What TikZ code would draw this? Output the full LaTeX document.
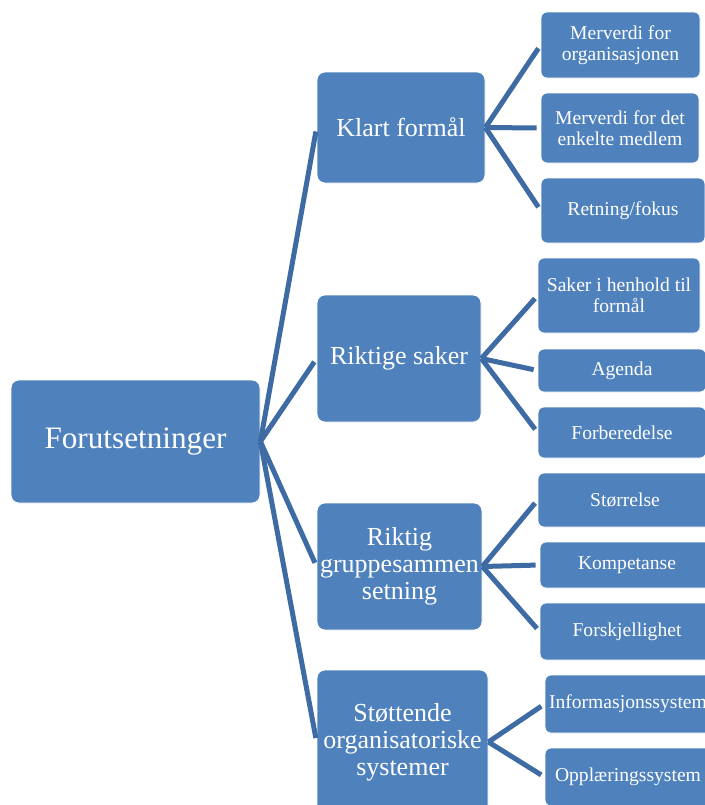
\documentclass[tikz,border=0pt]{standalone}
\usepackage{fontspec}
\setmainfont{Liberation Serif}
\usepackage{xcolor}
\definecolor{boxblue}{HTML}{4F81BD}
\definecolor{linkblue}{HTML}{3E6BA3}

\begin{document}
\begin{tikzpicture}[
      x = 0.5pt, y = -0.5pt, % pixel grid
      line width = 2.5pt, % connector width
      shorten > = 2pt,
    ]

    \tikzstyle{every box}=[
      draw = white,
      line width = 0.4pt,
      fill = boxblue,
      text = white,
      rounded corners = 4pt,
      align = center,
      inner sep = 1pt
    ]
    \tikzstyle{root}=[every box, minimum width = 124.5pt, minimum height = 61.5pt, font = \fontsize{15.6}{17}\selectfont]
    \tikzstyle{mid}=[every box, font = \fontsize{13}{13.5}\selectfont]
    \tikzstyle{leaf}=[every box, rounded corners = 3pt, font = \fontsize{9.8}{10.5}\selectfont]
    \tikzstyle{link}=[draw = linkblue, line width = 2.5pt]

    \useasboundingbox (0, 0) rectangle (705, 805);

    \node[root] (f) [at={(135.5, 441.5)}] {Forutsetninger};

    \node[mid, minimum width = 84pt, minimum height = 55.5pt] (k) [at={(401, 127.5)}] {Klart formål};
    \node[mid, minimum width = 82pt, minimum height = 63.5pt] (s) [at={(399, 358.5)}] {Riktige saker};
    \node[mid, minimum width = 82.5pt, minimum height = 63.5pt] (g) [at={(399.5, 566.5)}] {Riktig\\gruppesammen\\setning};
    \node[mid, minimum width = 85.5pt, minimum height = 72pt] (o) [at={(402.5, 742)}] {Støttende\\organisatoriske\\systemer};

    \node[leaf, minimum width = 79.5pt, minimum height = 33pt] (k1) [at={(620.5, 45)}] {Merverdi for\\organisasjonen};
    \node[leaf, minimum width = 79pt, minimum height = 35pt] (k2) [at={(620, 128)}] {Merverdi for det\\enkelte medlem};
    \node[leaf, minimum width = 82pt, minimum height = 32.5pt] (k3) [at={(623, 210.5)}] {Retning/fokus};

    \node[leaf, minimum width = 81pt, minimum height = 37.5pt] (s1) [at={(619, 295.5)}] {Saker i henhold til\\formål};
    \node[leaf, minimum width = 84pt, minimum height = 21.5pt] (s2) [at={(622, 370.5)}] {Agenda};
    \node[leaf, minimum width = 84pt, minimum height = 25.5pt] (s3) [at={(622, 432.5)}] {Forberedelse};

    \node[leaf, minimum width = 87pt, minimum height = 27pt] (g1) [at={(625, 500)}] {Størrelse};
    \node[leaf, minimum width = 87pt, minimum height = 23pt] (g2) [at={(627, 565)}] {Kompetanse};
    \node[leaf, minimum width = 87pt, minimum height = 28.5pt] (g3) [at={(627, 631.5)}] {Forskjellighet};

    \node[leaf, minimum width = 83pt, minimum height = 29pt] (o1) [at={(628, 704)}] {Informasjonssystem};
    \node[leaf, minimum width = 83pt, minimum height = 29pt] (o2) [at={(628, 777)}] {Opplæringssystem};

    \path[link] (f.east) edge (k.west);
    \path[link] (f.east) edge (s.west);
    \path[link] (f.east) edge (g.west);
    \path[link] (f.east) edge (o.west);
    \path[link] (k.east) edge (k1.west);
    \path[link] (k.east) edge (k2.west);
    \path[link] (k.east) edge (k3.west);
    \path[link] (s.east) edge (s1.west);
    \path[link] (s.east) edge (s2.west);
    \path[link] (s.east) edge (s3.west);
    \path[link] (g.east) edge (g1.west);
    \path[link] (g.east) edge (g2.west);
    \path[link] (g.east) edge (g3.west);
    \path[link] (o.east) edge (o1.west);
    \path[link] (o.east) edge (o2.west);
  \end{tikzpicture}
\end{document}
